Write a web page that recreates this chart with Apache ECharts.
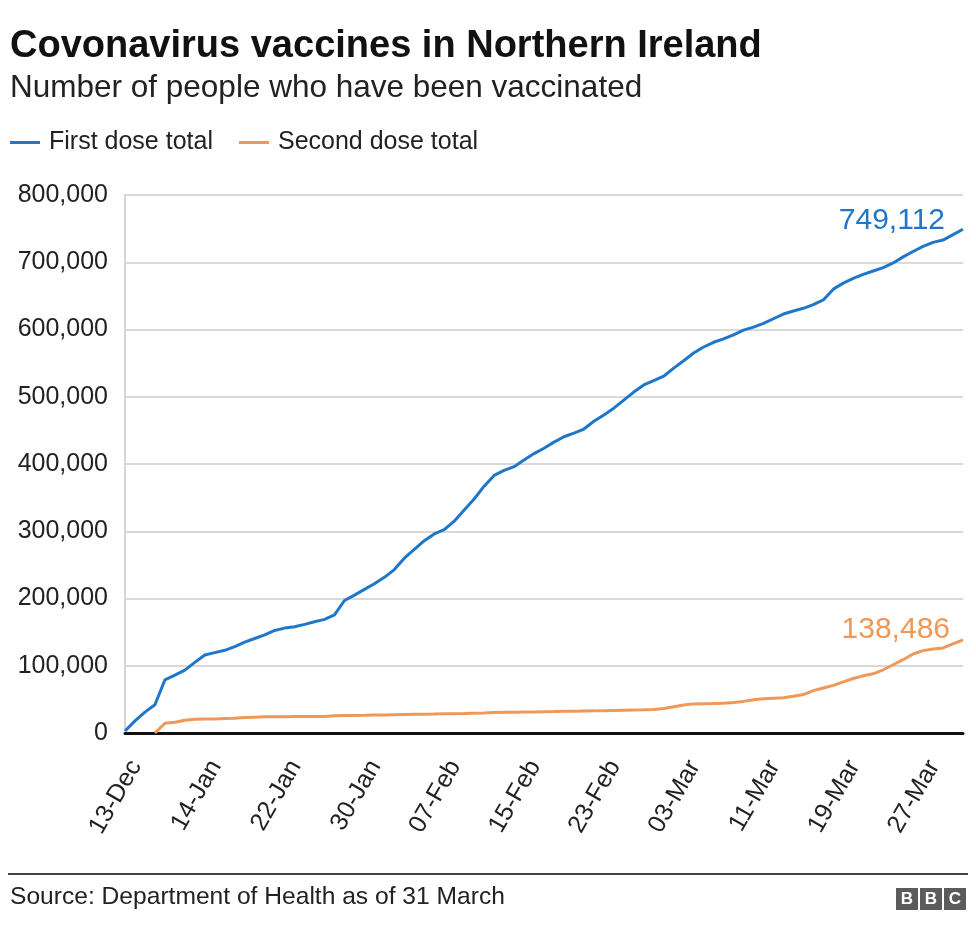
<!DOCTYPE html>
<html>
<head>
<meta charset="utf-8">
<script src="https://cdn.jsdelivr.net/npm/echarts@6/dist/echarts.min.js"></script>
<style>
html,body{margin:0;padding:0;background:#fff;}
#chart{width:976px;height:941px;}
</style>
</head>
<body>
<div id="chart"></div>
<script>
const categories = [
  '13-Dec','20-Dec','27-Dec','03-Jan','10-Jan',
  '11-Jan','12-Jan','13-Jan','14-Jan','15-Jan','16-Jan','17-Jan','18-Jan','19-Jan','20-Jan',
  '21-Jan','22-Jan','23-Jan','24-Jan','25-Jan','26-Jan','27-Jan','28-Jan','29-Jan','30-Jan','31-Jan',
  '01-Feb','02-Feb','03-Feb','04-Feb','05-Feb','06-Feb','07-Feb','08-Feb','09-Feb','10-Feb',
  '11-Feb','12-Feb','13-Feb','14-Feb','15-Feb','16-Feb','17-Feb','18-Feb','19-Feb','20-Feb',
  '21-Feb','22-Feb','23-Feb','24-Feb','25-Feb','26-Feb','27-Feb','28-Feb',
  '01-Mar','02-Mar','03-Mar','04-Mar','05-Mar','06-Mar','07-Mar','08-Mar','09-Mar','10-Mar',
  '11-Mar','12-Mar','13-Mar','14-Mar','15-Mar','16-Mar','17-Mar','18-Mar','19-Mar','20-Mar',
  '21-Mar','22-Mar','23-Mar','24-Mar','25-Mar','26-Mar','27-Mar','28-Mar','29-Mar','30-Mar','31-Mar'
];

const firstDose = [
  3000, 18000, 31000, 42000, 79000, 86000, 93500, 105000, 116000, 119500,
  123000, 128500, 135000, 140500, 146000, 152500, 156000, 158000, 161500, 165500,
  169000, 175500, 197000, 205000, 213500, 222000, 231500, 243000, 260000, 273000,
  286000, 296000, 302500, 315000, 331500, 348000, 367000, 383000, 390500, 396000,
  406000, 415500, 423500, 432500, 440500, 446000, 452000, 463500, 473000, 483000,
  495000, 507000, 517500, 524000, 530500, 542500, 553500, 565000, 574000, 581000,
  586000, 592000, 599000, 603500, 609000, 616000, 623000, 627500, 631500, 637000,
  644000, 660000, 669000, 676000, 682000, 687000, 692000, 699000, 708000, 716000,
  723500, 729500, 733000, 741000, 749112
];

const secondDose = [
  null, null, null, 0, 14400, 16000, 19000, 20500, 21000, 21000,
  21500, 22000, 23000, 23500, 24000, 24200, 24300, 24400, 24500, 24600,
  24700, 25500, 25900, 26100, 26300, 26600, 26800, 27100, 27400, 27700,
  28000, 28200, 28500, 28800, 29100, 29500, 29900, 30400, 30800, 31000,
  31200, 31400, 31600, 31800, 32200, 32500, 32700, 32900, 33200, 33500,
  33800, 34100, 34400, 34800, 36500, 39000, 41500, 43300, 43500, 43700,
  44200, 45500, 47000, 49500, 51000, 51800, 52500, 54500, 57200, 63000,
  67000, 70800, 76000, 81000, 85000, 88000, 94000, 101500, 109000, 117500,
  122500, 125000, 126500, 132500, 138486
];

const seriesNames = ['First dose total', 'Second dose total'];
const yTicks = [0, 100000, 200000, 300000, 400000, 500000, 600000, 700000, 800000];

const BLUE = '#1f77c9';
const ORANGE = '#ef9858';
const FONT = '"Liberation Sans", Arial, Helvetica, sans-serif';
const fmt = v => Number(v).toLocaleString('en-GB');

function endLabel(color, offset) {
  return {
    show: true,
    distance: 0,
    align: 'right',
    verticalAlign: 'middle',
    offset: offset,
    fontFamily: FONT,
    fontSize: 30,
    color: color,
    formatter: p => fmt(p.value)
  };
}

const chart = echarts.init(document.getElementById('chart'), null, {renderer: 'canvas'});
chart.setOption({
  animation: false,
  backgroundColor: '#ffffff',
  textStyle: {fontFamily: FONT},
  grid: {left: 125, right: 13, top: 195, bottom: 208, containLabel: false},
  legend: {
    left: 10, top: 130, padding: 0,
    icon: 'rect', itemWidth: 30, itemHeight: 3, itemGap: 26,
    textStyle: {fontFamily: FONT, fontSize: 25, color: '#222', padding: [0, 0, 0, 4]},
    data: seriesNames
  },
  xAxis: {
    type: 'category',
    data: categories,
    boundaryGap: false,
    axisLine: {show: true, lineStyle: {color: '#111', width: 3}},
    axisTick: {show: false},
    splitLine: {show: false},
    axisLabel: {
      interval: 7,
      rotate: 60,
      margin: 23,
      verticalAlign: 'top',
      fontFamily: FONT,
      fontSize: 25,
      color: '#222'
    }
  },
  yAxis: {
    type: 'value',
    min: yTicks[0],
    max: yTicks[yTicks.length - 1],
    interval: yTicks[1] - yTicks[0],
    axisLine: {show: true, lineStyle: {color: '#d6d6d6', width: 2}},
    axisTick: {show: false},
    splitLine: {show: true, lineStyle: {color: '#d9d9d9', width: 2}},
    axisLabel: {
      margin: 17,
      fontFamily: FONT,
      fontSize: 25,
      color: '#222',
      formatter: v => fmt(v)
    }
  },
  series: [
    {
      name: seriesNames[0],
      type: 'line',
      data: firstDose,
      symbol: 'none',
      showSymbol: false,
      lineStyle: {color: BLUE, width: 3},
      itemStyle: {color: BLUE},
      endLabel: endLabel(BLUE, [-18, -8]),
      z: 3
    },
    {
      name: seriesNames[1],
      type: 'line',
      data: secondDose,
      symbol: 'none',
      showSymbol: false,
      lineStyle: {color: ORANGE, width: 3},
      itemStyle: {color: ORANGE},
      endLabel: endLabel(ORANGE, [-13, -10]),
      z: 2
    }
  ],
  graphic: [
    {type: 'text', left: 10, top: 28, style: {text: 'Covonavirus vaccines in Northern Ireland', fontFamily: FONT, fontSize: 38, fontWeight: 'bold', fill: '#111'}},
    {type: 'text', left: 10, top: 72, style: {text: 'Number of people who have been vaccinated', fontFamily: FONT, fontSize: 31.5, fill: '#222'}},
    {type: 'rect', shape: {x: 8, y: 873, width: 960, height: 2}, style: {fill: '#444'}},
    {type: 'text', left: 10, top: 885, style: {text: 'Source: Department of Health as of 31 March', fontFamily: FONT, fontSize: 24.6, fill: '#222'}},
    {type: 'group', left: 896, top: 888, children: [
      {type: 'rect', shape: {x: 0, y: 0, width: 22, height: 22}, style: {fill: '#5b5b5b'}},
      {type: 'rect', shape: {x: 24, y: 0, width: 22, height: 22}, style: {fill: '#5b5b5b'}},
      {type: 'rect', shape: {x: 48, y: 0, width: 22, height: 22}, style: {fill: '#5b5b5b'}},
      {type: 'text', x: 11, y: 11, style: {text: 'B', fontFamily: FONT, fontSize: 17, fontWeight: 'bold', fill: '#fff', align: 'center', verticalAlign: 'middle'}},
      {type: 'text', x: 35, y: 11, style: {text: 'B', fontFamily: FONT, fontSize: 17, fontWeight: 'bold', fill: '#fff', align: 'center', verticalAlign: 'middle'}},
      {type: 'text', x: 59, y: 11, style: {text: 'C', fontFamily: FONT, fontSize: 17, fontWeight: 'bold', fill: '#fff', align: 'center', verticalAlign: 'middle'}}
    ]}
  ]
});
</script>
</body>
</html>
